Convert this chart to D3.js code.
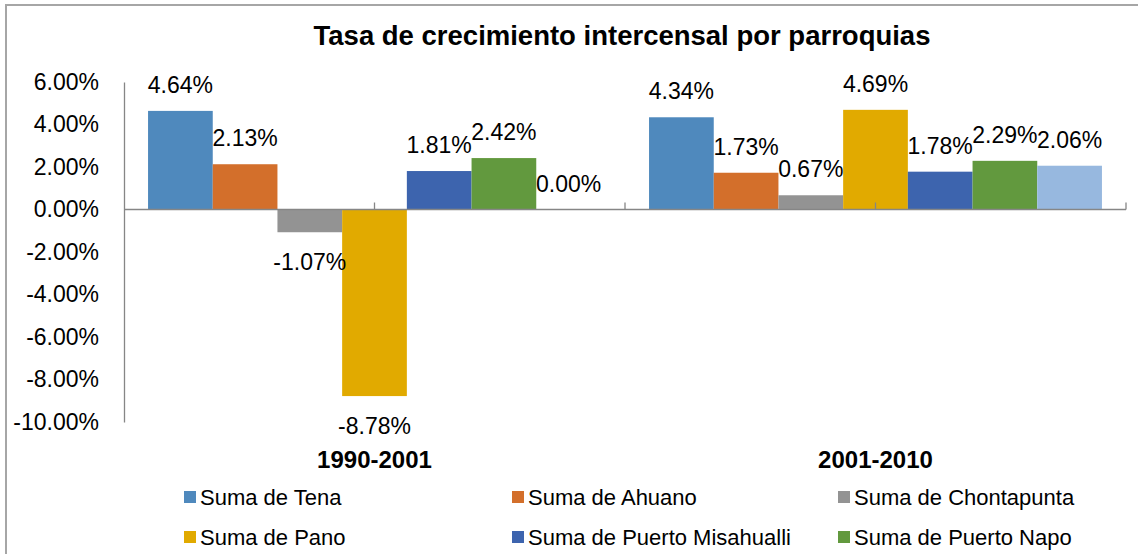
<!DOCTYPE html>
<html>
<head>
<meta charset="utf-8">
<script src="https://cdn.jsdelivr.net/npm/d3@7"></script>
<style>
  body { margin: 0; background: #fff; }
  svg { display: block; font-family: "Liberation Sans", Arial, sans-serif; }
</style>
</head>
<body>
<div id="chart"></div>
<script>
// data
var categories = ["1990-2001", "2001-2010"];
var seriesNames = ["Suma de Tena", "Suma de Ahuano", "Suma de Chontapunta", "Suma de Pano",
                   "Suma de Puerto Misahualli", "Suma de Puerto Napo", "Suma de Talag"];
var values1990 = [4.64, 2.13, -1.07, -8.78, 1.81, 2.42, 0.00];
var values2001 = [4.34, 1.73, 0.67, 4.69, 1.78, 2.29, 2.06];
var yTicks = [6, 4, 2, 0, -2, -4, -6, -8, -10];
var colors = ["#4F89BD", "#D36F2B", "#939393", "#E1AA00", "#3D64AE", "#62993E", "#97B8DF"];

var svgWidth = 1138, svgHeight = 554;
var margin = {top: 82, right: 12, bottom: 132, left: 124};

// excel style percent, plain hyphen for negatives
function pct(v) { return v.toFixed(2) + "%"; }

var svg = d3.select("#chart").append("svg")
    .attr("width", svgWidth)
    .attr("height", svgHeight);

// chart frame
svg.append("rect")
    .attr("x", 6).attr("y", 5)
    .attr("width", 1150).attr("height", 600)
    .style("fill", "none")
    .style("stroke", "#A6A6A6")
    .style("stroke-width", 2);

svg.append("text")
    .attr("x", 622).attr("y", 35)
    .attr("dy", "0.35em")
    .style("text-anchor", "middle")
    .style("font-weight", "bold")
    .style("font-size", "27.5px")
    .text("Tasa de crecimiento intercensal por parroquias");

var g = svg.append("g")
    .attr("transform", "translate(" + margin.left + "," + margin.top + ")");

var width = 1126 - margin.left;
var height = 422 - margin.top;

var x0 = d3.scaleBand().domain(categories).range([0, width])
    .paddingInner(0.096).paddingOuter(0.048);
var x1 = d3.scaleBand().domain(seriesNames).range([0, x0.bandwidth()]);
var y = d3.scaleLinear().domain([-10, 6]).range([height, 0]);

// y axis
var yAxis = d3.axisLeft(y).tickValues(yTicks).tickSize(0).tickPadding(25)
    .tickFormat(pct);
var yAxisG = g.append("g").attr("class", "y axis").call(yAxis);
yAxisG.select(".domain").style("stroke", "#868686").style("stroke-width", 1.3);
yAxisG.selectAll("text")
    .style("font-size", "23px")
    .style("fill", "#000")
    .style("font-family", "Liberation Sans, Arial, sans-serif");

var rows = categories.map(function(c, i) {
    var vals = i == 0 ? values1990 : values2001;
    return {cat: c, items: seriesNames.map(function(s, j) { return {name: s, value: vals[j], color: colors[j]}; })};
});

var groups = g.selectAll("g.group").data(rows).enter().append("g")
    .attr("class", "group")
    .attr("transform", function(d) { return "translate(" + x0(d.cat) + ",0)"; });

groups.selectAll("rect").data(function(d) { return d.items; }).enter().append("rect")
    .attr("x", function(d) { return x1(d.name); })
    .attr("width", x1.bandwidth())
    .attr("y", function(d) { return y(Math.max(0, d.value)); })
    .attr("height", function(d) { return Math.abs(y(d.value) - y(0)); })
    .style("fill", function(d) { return d.color; });

// x axis line at zero with ticks pointing up
var xTickScale = d3.scaleLinear().domain([0, 4]).range([0, width]);
var xAxisG = g.append("g").attr("class", "x axis")
    .attr("transform", "translate(0," + y(0) + ")");
xAxisG.append("line")
    .attr("x1", 0).attr("x2", width)
    .style("stroke", "#868686").style("stroke-width", 1.3);
xAxisG.selectAll("line.tick").data(d3.range(1, 5)).enter().append("line")
    .attr("class", "tick")
    .attr("x1", function(d) { return xTickScale(d); })
    .attr("x2", function(d) { return xTickScale(d); })
    .attr("y1", 0).attr("y2", -7)
    .style("stroke", "#868686").style("stroke-width", 1.3);

// data labels
groups.selectAll("text.label").data(function(d) { return d.items; }).enter().append("text")
    .attr("class", "label")
    .attr("x", function(d) { return x1(d.name) + x1.bandwidth() / 2; })
    .attr("y", function(d) { return d.value < 0 ? y(d.value) + 30 : y(d.value) - 26; })
    .attr("dy", "0.35em")
    .style("text-anchor", "middle")
    .style("font-size", "23px")
    .text(function(d) { return pct(d.value); });

// category labels
g.selectAll("text.cat").data(categories).enter().append("text")
    .attr("class", "cat")
    .attr("x", function(d) { return x0(d) + x0.bandwidth() / 2; })
    .attr("y", 460 - margin.top)
    .attr("dy", "0.35em")
    .style("text-anchor", "middle")
    .style("font-weight", "bold")
    .style("font-size", "24px")
    .text(function(d) { return d; });

// legend (third row falls below the picture, as in the original)
var legendX = [184, 512, 838];
var legendItems = seriesNames.map(function(s, i) {
    return {name: s, color: colors[i], x: legendX[i % 3], y: 497 + Math.floor(i / 3) * 40};
}).filter(function(d) { return d.y < svgHeight; });
var legend = svg.selectAll("g.legend").data(legendItems).enter().append("g")
    .attr("class", "legend")
    .attr("transform", function(d) { return "translate(" + d.x + "," + d.y + ")"; });
legend.append("rect")
    .attr("x", 0).attr("y", -6)
    .attr("width", 12).attr("height", 12)
    .style("fill", function(d) { return d.color; });
legend.append("text")
    .attr("x", 16).attr("dy", "0.35em")
    .style("font-size", "22px")
    .text(function(d) { return d.name; });
</script>
</body>
</html>
